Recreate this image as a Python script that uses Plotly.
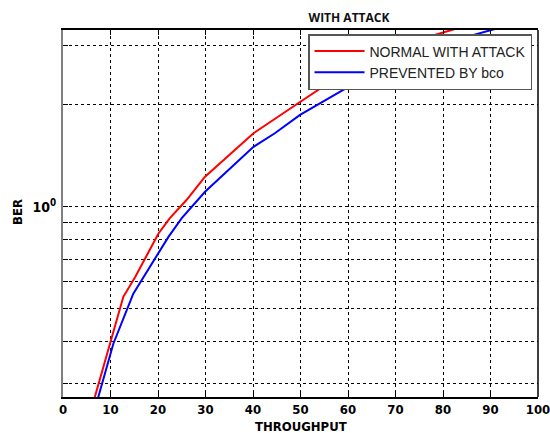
import plotly.graph_objects as go

# Data
red_x = [6.5, 9.9, 12.7, 15.2, 20.1, 22.5, 26.0, 29.9, 40.1, 49.9, 56.9, 67.0, 77.0, 81.8, 86.0]
red_y = [0.268, 0.394, 0.542, 0.620, 0.834, 0.926, 1.047, 1.227, 1.649, 2.04, 2.37, 2.80, 3.18, 3.33, 3.47]

blue_x = [7.3, 10.6, 14.8, 22.2, 25.0, 28.5, 29.9, 40.1, 44.6, 49.9, 59.0, 72.0, 85.7, 90.2, 94.0]
blue_y = [0.270, 0.394, 0.554, 0.815, 0.926, 1.047, 1.108, 1.504, 1.649, 1.868, 2.215, 2.72, 3.20, 3.33, 3.45]

series_names = ["NORMAL WITH ATTACK", "PREVENTED BY bco"]
x_ticks = [0, 10, 20, 30, 40, 50, 60, 70, 80, 90, 100]
y_ticks = [0.3, 0.4, 0.5, 0.6, 0.7, 0.8, 0.9, 1, 2, 3]
y_ticktext = ["", "", "", "", "", "", "", "10<sup>0</sup>", "", ""]

FONT_NARROW = "Liberation Sans Narrow, Arial Narrow, DejaVu Sans Condensed, Liberation Sans, Arial, sans-serif"

fig = go.Figure()
fig.add_trace(go.Scatter(x=red_x, y=red_y, mode="lines", name=series_names[0],
                         line=dict(color="#ff0000", width=2)))
fig.add_trace(go.Scatter(x=blue_x, y=blue_y, mode="lines", name=series_names[1],
                         line=dict(color="#0000ff", width=2)))

fig.update_layout(
    width=550, height=433,
    margin=dict(l=63, r=12, t=30, b=36, autoexpand=False),
    paper_bgcolor="white", plot_bgcolor="white",
    title=dict(text="WITH ATTACK", x=349/550, xanchor="center", y=1-18/433, yanchor="middle",
               font=dict(family="Open Sans, Liberation Sans, sans-serif", size=12, color="#111", weight="bold")),
    showlegend=True,
    legend=dict(x=(308-63)/475, y=(397-34)/367, xanchor="left", yanchor="top",
                bgcolor="white", bordercolor="#555", borderwidth=1.5,
                font=dict(family="Liberation Sans, Arial, sans-serif", size=14, color="#222"),
                tracegroupgap=0, itemwidth=50),
    xaxis=dict(range=[0, 100], tickvals=x_ticks, ticktext=[str(v) for v in x_ticks],
               automargin=False, ticklabeloverflow="allow",
               showgrid=True, gridcolor="black", griddash="3px,3px", gridwidth=1,
               showline=True, linecolor="black", linewidth=1.5, mirror="ticks",
               ticks="inside", ticklen=5, tickcolor="black", zeroline=False,
               ticklabelstandoff=0,
               tickfont=dict(family=FONT_NARROW, size=13, color="black", weight="bold"),
               title=dict(text="")),
    yaxis=dict(type="log", range=[-0.562, 0.5224], tickvals=y_ticks, ticktext=y_ticktext,
               automargin=False, ticklabeloverflow="allow",
               showgrid=True, gridcolor="black", griddash="3px,3px", gridwidth=1,
               showline=True, linecolor="#808080", linewidth=2, mirror=False,
               ticks="inside", ticklen=5, tickcolor="black", zeroline=False,
               ticklabelstandoff=2,
               tickfont=dict(family=FONT_NARROW, size=14, color="black", weight="bold"),
               title=dict(text="")),
    annotations=[
        dict(text="THROUGHPUT", xref="paper", yref="paper", x=0.5, y=-(426-397)/367,
             xanchor="center", yanchor="middle", showarrow=False,
             font=dict(family=FONT_NARROW, size=13, color="black", weight="bold")),
        dict(text="BER", xref="paper", yref="paper", x=-(63-17)/475, y=(397-212)/367,
             xanchor="center", yanchor="middle", showarrow=False, textangle=-90,
             font=dict(family=FONT_NARROW, size=13, color="black", weight="bold")),
    ],
)
fig.add_shape(type="line", xref="paper", yref="paper", x0=1, x1=1, y0=0, y1=1,
              line=dict(color="black", width=1.5))

fig.write_html("out.html")
